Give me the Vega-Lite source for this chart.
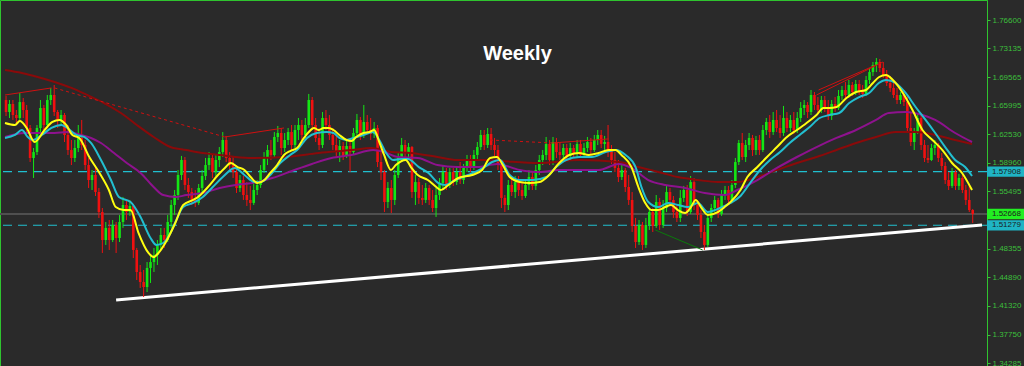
{
"$schema":"https://vega.github.io/schema/vega-lite/v6.json",
"width":987,"height":366,
"autosize":{"type":"none"},
"padding":{"left":0,"top":0,"right":37,"bottom":0},
"background":"#2a2a2a",
"title":{"text":"Weekly","color":"#ffffff","font":"Liberation Sans","fontSize":20,"fontWeight":"bold","anchor":"middle","frame":"group","offset":0,"dx":24,"dy":80,"baseline":"alphabetic"},
"config":{"view":{"stroke":"#2fc42f","strokeWidth":1}},
"resolve":{"axis":{"y":"independent","x":"independent"}},
"datasets":{
"candles":[
{"i":0,"o":1.6673,"h":1.6723,"l":1.6476,"c":1.6525},
{"i":1,"o":1.6525,"h":1.6673,"l":1.6451,"c":1.6624},
{"i":2,"o":1.6624,"h":1.6673,"l":1.6427,"c":1.6488},
{"i":3,"o":1.6488,"h":1.6550,"l":1.6365,"c":1.6451},
{"i":4,"o":1.6451,"h":1.6760,"l":1.6402,"c":1.6648},
{"i":5,"o":1.6648,"h":1.6698,"l":1.6451,"c":1.6550},
{"i":6,"o":1.6550,"h":1.6612,"l":1.6278,"c":1.6328},
{"i":7,"o":1.6328,"h":1.6365,"l":1.5908,"c":1.5958},
{"i":8,"o":1.5958,"h":1.6081,"l":1.5711,"c":1.6031},
{"i":9,"o":1.6031,"h":1.6365,"l":1.5995,"c":1.6328},
{"i":10,"o":1.6328,"h":1.6673,"l":1.6278,"c":1.6575},
{"i":11,"o":1.6575,"h":1.6612,"l":1.6303,"c":1.6365},
{"i":12,"o":1.6365,"h":1.6735,"l":1.6328,"c":1.6673},
{"i":13,"o":1.6673,"h":1.6822,"l":1.6612,"c":1.6735},
{"i":14,"o":1.6735,"h":1.6858,"l":1.6476,"c":1.6525},
{"i":15,"o":1.6525,"h":1.6550,"l":1.6328,"c":1.6427},
{"i":16,"o":1.6427,"h":1.6550,"l":1.6365,"c":1.6488},
{"i":17,"o":1.6488,"h":1.6513,"l":1.6155,"c":1.6242},
{"i":18,"o":1.6242,"h":1.6365,"l":1.5995,"c":1.6056},
{"i":19,"o":1.6056,"h":1.6180,"l":1.5871,"c":1.5958},
{"i":20,"o":1.5958,"h":1.6180,"l":1.5908,"c":1.6081},
{"i":21,"o":1.6081,"h":1.6365,"l":1.6031,"c":1.6205},
{"i":22,"o":1.6205,"h":1.6427,"l":1.6056,"c":1.6118},
{"i":23,"o":1.6118,"h":1.6180,"l":1.5810,"c":1.5871},
{"i":24,"o":1.5871,"h":1.5958,"l":1.5588,"c":1.5686},
{"i":25,"o":1.5686,"h":1.5810,"l":1.5563,"c":1.5748},
{"i":26,"o":1.5748,"h":1.5871,"l":1.5489,"c":1.5538},
{"i":27,"o":1.5538,"h":1.5588,"l":1.5218,"c":1.5291},
{"i":28,"o":1.5291,"h":1.5341,"l":1.4786,"c":1.4946},
{"i":29,"o":1.4946,"h":1.5168,"l":1.4885,"c":1.5095},
{"i":30,"o":1.5095,"h":1.5193,"l":1.4823,"c":1.4946},
{"i":31,"o":1.4946,"h":1.5193,"l":1.4921,"c":1.5131},
{"i":32,"o":1.5131,"h":1.5168,"l":1.4786,"c":1.4971},
{"i":33,"o":1.4971,"h":1.5255,"l":1.4921,"c":1.5168},
{"i":34,"o":1.5168,"h":1.5477,"l":1.5095,"c":1.5378},
{"i":35,"o":1.5378,"h":1.5440,"l":1.5193,"c":1.5291},
{"i":36,"o":1.5291,"h":1.5440,"l":1.5243,"c":1.5366},
{"i":37,"o":1.5366,"h":1.5391,"l":1.4724,"c":1.4823},
{"i":38,"o":1.4823,"h":1.4848,"l":1.4453,"c":1.4551},
{"i":39,"o":1.4551,"h":1.4638,"l":1.4354,"c":1.4428},
{"i":40,"o":1.4428,"h":1.4576,"l":1.4243,"c":1.4366},
{"i":41,"o":1.4366,"h":1.4674,"l":1.4304,"c":1.4601},
{"i":42,"o":1.4601,"h":1.4761,"l":1.4416,"c":1.4674},
{"i":43,"o":1.4674,"h":1.4848,"l":1.4551,"c":1.4761},
{"i":44,"o":1.4761,"h":1.4946,"l":1.4638,"c":1.4885},
{"i":45,"o":1.4885,"h":1.5095,"l":1.4823,"c":1.5008},
{"i":46,"o":1.5008,"h":1.5095,"l":1.4848,"c":1.4946},
{"i":47,"o":1.4946,"h":1.5255,"l":1.4921,"c":1.5168},
{"i":48,"o":1.5168,"h":1.5440,"l":1.5095,"c":1.5378},
{"i":49,"o":1.5378,"h":1.5563,"l":1.5255,"c":1.5501},
{"i":50,"o":1.5501,"h":1.5810,"l":1.5440,"c":1.5748},
{"i":51,"o":1.5748,"h":1.5983,"l":1.5686,"c":1.5933},
{"i":52,"o":1.5933,"h":1.5970,"l":1.5563,"c":1.5625},
{"i":53,"o":1.5625,"h":1.5711,"l":1.5465,"c":1.5538},
{"i":54,"o":1.5538,"h":1.5588,"l":1.5378,"c":1.5440},
{"i":55,"o":1.5440,"h":1.5563,"l":1.5353,"c":1.5403},
{"i":56,"o":1.5403,"h":1.5637,"l":1.5378,"c":1.5588},
{"i":57,"o":1.5588,"h":1.5810,"l":1.5538,"c":1.5736},
{"i":58,"o":1.5736,"h":1.5958,"l":1.5686,"c":1.5871},
{"i":59,"o":1.5871,"h":1.6031,"l":1.5810,"c":1.5958},
{"i":60,"o":1.5958,"h":1.5995,"l":1.5711,"c":1.5785},
{"i":61,"o":1.5785,"h":1.5995,"l":1.5736,"c":1.5933},
{"i":62,"o":1.5933,"h":1.6093,"l":1.5846,"c":1.6031},
{"i":63,"o":1.6031,"h":1.6278,"l":1.5970,"c":1.6180},
{"i":64,"o":1.6180,"h":1.6230,"l":1.5908,"c":1.5958},
{"i":65,"o":1.5958,"h":1.6031,"l":1.5810,"c":1.5871},
{"i":66,"o":1.5871,"h":1.5983,"l":1.5711,"c":1.5785},
{"i":67,"o":1.5785,"h":1.5835,"l":1.5526,"c":1.5588},
{"i":68,"o":1.5588,"h":1.5748,"l":1.5538,"c":1.5686},
{"i":69,"o":1.5686,"h":1.5736,"l":1.5440,"c":1.5501},
{"i":70,"o":1.5501,"h":1.5661,"l":1.5366,"c":1.5440},
{"i":71,"o":1.5440,"h":1.5613,"l":1.5316,"c":1.5403},
{"i":72,"o":1.5403,"h":1.5661,"l":1.5378,"c":1.5563},
{"i":73,"o":1.5563,"h":1.5686,"l":1.5501,"c":1.5625},
{"i":74,"o":1.5625,"h":1.5871,"l":1.5588,"c":1.5810},
{"i":75,"o":1.5810,"h":1.6031,"l":1.5773,"c":1.5970},
{"i":76,"o":1.5970,"h":1.6118,"l":1.5871,"c":1.6056},
{"i":77,"o":1.6056,"h":1.6180,"l":1.5933,"c":1.5995},
{"i":78,"o":1.5995,"h":1.6278,"l":1.5970,"c":1.6217},
{"i":79,"o":1.6217,"h":1.6353,"l":1.6155,"c":1.6266},
{"i":80,"o":1.6266,"h":1.6328,"l":1.5995,"c":1.6081},
{"i":81,"o":1.6081,"h":1.6266,"l":1.6031,"c":1.6180},
{"i":82,"o":1.6180,"h":1.6328,"l":1.6118,"c":1.6278},
{"i":83,"o":1.6278,"h":1.6365,"l":1.6056,"c":1.6118},
{"i":84,"o":1.6118,"h":1.6365,"l":1.6081,"c":1.6303},
{"i":85,"o":1.6303,"h":1.6451,"l":1.6180,"c":1.6365},
{"i":86,"o":1.6365,"h":1.6427,"l":1.6180,"c":1.6242},
{"i":87,"o":1.6242,"h":1.6451,"l":1.6205,"c":1.6365},
{"i":88,"o":1.6365,"h":1.6748,"l":1.6328,"c":1.6673},
{"i":89,"o":1.6673,"h":1.6710,"l":1.6303,"c":1.6365},
{"i":90,"o":1.6365,"h":1.6451,"l":1.6155,"c":1.6205},
{"i":91,"o":1.6205,"h":1.6328,"l":1.6056,"c":1.6118},
{"i":92,"o":1.6118,"h":1.6525,"l":1.6081,"c":1.6451},
{"i":93,"o":1.6451,"h":1.6550,"l":1.6303,"c":1.6365},
{"i":94,"o":1.6365,"h":1.6488,"l":1.6180,"c":1.6242},
{"i":95,"o":1.6242,"h":1.6328,"l":1.6056,"c":1.6118},
{"i":96,"o":1.6118,"h":1.6242,"l":1.5958,"c":1.6031},
{"i":97,"o":1.6031,"h":1.6180,"l":1.5908,"c":1.6106},
{"i":98,"o":1.6106,"h":1.6155,"l":1.5933,"c":1.5983},
{"i":99,"o":1.5983,"h":1.6180,"l":1.5958,"c":1.6106},
{"i":100,"o":1.6106,"h":1.6180,"l":1.5785,"c":1.6031},
{"i":101,"o":1.6031,"h":1.6328,"l":1.5995,"c":1.6266},
{"i":102,"o":1.6266,"h":1.6501,"l":1.6217,"c":1.6427},
{"i":103,"o":1.6427,"h":1.6464,"l":1.6180,"c":1.6242},
{"i":104,"o":1.6242,"h":1.6612,"l":1.6205,"c":1.6402},
{"i":105,"o":1.6402,"h":1.6488,"l":1.6254,"c":1.6303},
{"i":106,"o":1.6303,"h":1.6451,"l":1.6180,"c":1.6254},
{"i":107,"o":1.6254,"h":1.6402,"l":1.6205,"c":1.6328},
{"i":108,"o":1.6328,"h":1.6365,"l":1.5846,"c":1.5908},
{"i":109,"o":1.5908,"h":1.6056,"l":1.5686,"c":1.5785},
{"i":110,"o":1.5785,"h":1.5810,"l":1.5291,"c":1.5415},
{"i":111,"o":1.5415,"h":1.5661,"l":1.5341,"c":1.5588},
{"i":112,"o":1.5588,"h":1.5686,"l":1.5279,"c":1.5440},
{"i":113,"o":1.5440,"h":1.5810,"l":1.5378,"c":1.5748},
{"i":114,"o":1.5748,"h":1.6031,"l":1.5711,"c":1.5958},
{"i":115,"o":1.5958,"h":1.6205,"l":1.5908,"c":1.6118},
{"i":116,"o":1.6118,"h":1.6180,"l":1.5958,"c":1.6019},
{"i":117,"o":1.6019,"h":1.6143,"l":1.5933,"c":1.6093},
{"i":118,"o":1.6093,"h":1.6106,"l":1.5465,"c":1.5538},
{"i":119,"o":1.5538,"h":1.5748,"l":1.5378,"c":1.5661},
{"i":120,"o":1.5661,"h":1.5711,"l":1.5391,"c":1.5465},
{"i":121,"o":1.5465,"h":1.5625,"l":1.5378,"c":1.5440},
{"i":122,"o":1.5440,"h":1.5649,"l":1.5403,"c":1.5588},
{"i":123,"o":1.5588,"h":1.5625,"l":1.5378,"c":1.5440},
{"i":124,"o":1.5440,"h":1.5563,"l":1.5291,"c":1.5341},
{"i":125,"o":1.5341,"h":1.5588,"l":1.5230,"c":1.5501},
{"i":126,"o":1.5501,"h":1.5711,"l":1.5440,"c":1.5649},
{"i":127,"o":1.5649,"h":1.5871,"l":1.5588,"c":1.5785},
{"i":128,"o":1.5785,"h":1.5835,"l":1.5563,"c":1.5625},
{"i":129,"o":1.5625,"h":1.5835,"l":1.5588,"c":1.5785},
{"i":130,"o":1.5785,"h":1.5835,"l":1.5613,"c":1.5661},
{"i":131,"o":1.5661,"h":1.5859,"l":1.5625,"c":1.5785},
{"i":132,"o":1.5785,"h":1.5908,"l":1.5637,"c":1.5686},
{"i":133,"o":1.5686,"h":1.5884,"l":1.5637,"c":1.5835},
{"i":134,"o":1.5835,"h":1.5995,"l":1.5785,"c":1.5933},
{"i":135,"o":1.5933,"h":1.5995,"l":1.5785,"c":1.5835},
{"i":136,"o":1.5835,"h":1.6056,"l":1.5810,"c":1.5995},
{"i":137,"o":1.5995,"h":1.6155,"l":1.5933,"c":1.6093},
{"i":138,"o":1.6093,"h":1.6303,"l":1.6056,"c":1.6242},
{"i":139,"o":1.6242,"h":1.6303,"l":1.6056,"c":1.6118},
{"i":140,"o":1.6118,"h":1.6328,"l":1.6081,"c":1.6254},
{"i":141,"o":1.6254,"h":1.6328,"l":1.6056,"c":1.6118},
{"i":142,"o":1.6118,"h":1.6205,"l":1.5983,"c":1.6056},
{"i":143,"o":1.6056,"h":1.6118,"l":1.5810,"c":1.5871},
{"i":144,"o":1.5871,"h":1.5933,"l":1.5341,"c":1.5465},
{"i":145,"o":1.5465,"h":1.5501,"l":1.5291,"c":1.5378},
{"i":146,"o":1.5378,"h":1.5686,"l":1.5316,"c":1.5625},
{"i":147,"o":1.5625,"h":1.5711,"l":1.5489,"c":1.5538},
{"i":148,"o":1.5538,"h":1.5736,"l":1.5465,"c":1.5661},
{"i":149,"o":1.5661,"h":1.5736,"l":1.5489,"c":1.5563},
{"i":150,"o":1.5563,"h":1.5649,"l":1.5440,"c":1.5489},
{"i":151,"o":1.5489,"h":1.5686,"l":1.5465,"c":1.5625},
{"i":152,"o":1.5625,"h":1.5810,"l":1.5563,"c":1.5723},
{"i":153,"o":1.5723,"h":1.5785,"l":1.5563,"c":1.5613},
{"i":154,"o":1.5613,"h":1.5871,"l":1.5563,"c":1.5810},
{"i":155,"o":1.5810,"h":1.5995,"l":1.5748,"c":1.5933},
{"i":156,"o":1.5933,"h":1.6056,"l":1.5871,"c":1.5995},
{"i":157,"o":1.5995,"h":1.6217,"l":1.5933,"c":1.6131},
{"i":158,"o":1.6131,"h":1.6180,"l":1.5871,"c":1.5933},
{"i":159,"o":1.5933,"h":1.6217,"l":1.5871,"c":1.6155},
{"i":160,"o":1.6155,"h":1.6205,"l":1.5958,"c":1.6031},
{"i":161,"o":1.6031,"h":1.6155,"l":1.5933,"c":1.5995},
{"i":162,"o":1.5995,"h":1.6131,"l":1.5933,"c":1.6081},
{"i":163,"o":1.6081,"h":1.6131,"l":1.5933,"c":1.5983},
{"i":164,"o":1.5983,"h":1.6143,"l":1.5933,"c":1.6081},
{"i":165,"o":1.6081,"h":1.6118,"l":1.5958,"c":1.6007},
{"i":166,"o":1.6007,"h":1.6180,"l":1.5958,"c":1.6131},
{"i":167,"o":1.6131,"h":1.6180,"l":1.5958,"c":1.5995},
{"i":168,"o":1.5995,"h":1.6143,"l":1.5970,"c":1.6081},
{"i":169,"o":1.6081,"h":1.6217,"l":1.6031,"c":1.6155},
{"i":170,"o":1.6155,"h":1.6205,"l":1.5995,"c":1.6056},
{"i":171,"o":1.6056,"h":1.6242,"l":1.6031,"c":1.6180},
{"i":172,"o":1.6180,"h":1.6303,"l":1.6118,"c":1.6242},
{"i":173,"o":1.6242,"h":1.6303,"l":1.6081,"c":1.6131},
{"i":174,"o":1.6131,"h":1.6230,"l":1.6056,"c":1.6155},
{"i":175,"o":1.6155,"h":1.6365,"l":1.5970,"c":1.6056},
{"i":176,"o":1.6056,"h":1.6118,"l":1.5884,"c":1.5933},
{"i":177,"o":1.5933,"h":1.6031,"l":1.5785,"c":1.5835},
{"i":178,"o":1.5835,"h":1.5933,"l":1.5661,"c":1.5723},
{"i":179,"o":1.5723,"h":1.5871,"l":1.5686,"c":1.5810},
{"i":180,"o":1.5810,"h":1.5835,"l":1.5538,"c":1.5600},
{"i":181,"o":1.5600,"h":1.5748,"l":1.5378,"c":1.5440},
{"i":182,"o":1.5440,"h":1.5538,"l":1.5045,"c":1.5119},
{"i":183,"o":1.5119,"h":1.5218,"l":1.4848,"c":1.4921},
{"i":184,"o":1.4921,"h":1.5193,"l":1.4885,"c":1.5131},
{"i":185,"o":1.5131,"h":1.5168,"l":1.4823,"c":1.4885},
{"i":186,"o":1.4885,"h":1.5218,"l":1.4848,"c":1.5131},
{"i":187,"o":1.5131,"h":1.5341,"l":1.5070,"c":1.5291},
{"i":188,"o":1.5291,"h":1.5341,"l":1.5045,"c":1.5119},
{"i":189,"o":1.5119,"h":1.5501,"l":1.5095,"c":1.5415},
{"i":190,"o":1.5415,"h":1.5465,"l":1.5070,"c":1.5131},
{"i":191,"o":1.5131,"h":1.5440,"l":1.5095,"c":1.5341},
{"i":192,"o":1.5341,"h":1.5613,"l":1.5291,"c":1.5538},
{"i":193,"o":1.5538,"h":1.5588,"l":1.5378,"c":1.5440},
{"i":194,"o":1.5440,"h":1.5489,"l":1.5218,"c":1.5291},
{"i":195,"o":1.5291,"h":1.5378,"l":1.5168,"c":1.5218},
{"i":196,"o":1.5218,"h":1.5563,"l":1.5168,"c":1.5465},
{"i":197,"o":1.5465,"h":1.5613,"l":1.5415,"c":1.5563},
{"i":198,"o":1.5563,"h":1.5625,"l":1.5243,"c":1.5291},
{"i":199,"o":1.5291,"h":1.5736,"l":1.5267,"c":1.5661},
{"i":200,"o":1.5661,"h":1.5711,"l":1.5316,"c":1.5378},
{"i":201,"o":1.5378,"h":1.5440,"l":1.5193,"c":1.5255},
{"i":202,"o":1.5255,"h":1.5316,"l":1.4971,"c":1.5045},
{"i":203,"o":1.5045,"h":1.5131,"l":1.4823,"c":1.4885},
{"i":204,"o":1.4885,"h":1.5291,"l":1.4860,"c":1.5218},
{"i":205,"o":1.5218,"h":1.5391,"l":1.5168,"c":1.5341},
{"i":206,"o":1.5341,"h":1.5489,"l":1.5291,"c":1.5440},
{"i":207,"o":1.5440,"h":1.5465,"l":1.5218,"c":1.5267},
{"i":208,"o":1.5267,"h":1.5563,"l":1.5243,"c":1.5501},
{"i":209,"o":1.5501,"h":1.5613,"l":1.5440,"c":1.5563},
{"i":210,"o":1.5563,"h":1.5613,"l":1.5391,"c":1.5440},
{"i":211,"o":1.5440,"h":1.5686,"l":1.5415,"c":1.5625},
{"i":212,"o":1.5625,"h":1.5958,"l":1.5588,"c":1.5908},
{"i":213,"o":1.5908,"h":1.6180,"l":1.5871,"c":1.6143},
{"i":214,"o":1.6143,"h":1.6266,"l":1.5933,"c":1.5970},
{"i":215,"o":1.5970,"h":1.6180,"l":1.5908,"c":1.6118},
{"i":216,"o":1.6118,"h":1.6266,"l":1.6056,"c":1.6205},
{"i":217,"o":1.6205,"h":1.6242,"l":1.5983,"c":1.6056},
{"i":218,"o":1.6056,"h":1.6230,"l":1.5995,"c":1.6180},
{"i":219,"o":1.6180,"h":1.6242,"l":1.5995,"c":1.6056},
{"i":220,"o":1.6056,"h":1.6365,"l":1.6031,"c":1.6303},
{"i":221,"o":1.6303,"h":1.6451,"l":1.6242,"c":1.6402},
{"i":222,"o":1.6402,"h":1.6488,"l":1.6205,"c":1.6278},
{"i":223,"o":1.6278,"h":1.6525,"l":1.6242,"c":1.6427},
{"i":224,"o":1.6427,"h":1.6550,"l":1.6278,"c":1.6328},
{"i":225,"o":1.6328,"h":1.6488,"l":1.6205,"c":1.6266},
{"i":226,"o":1.6266,"h":1.6600,"l":1.6230,"c":1.6451},
{"i":227,"o":1.6451,"h":1.6525,"l":1.6278,"c":1.6328},
{"i":228,"o":1.6328,"h":1.6488,"l":1.6278,"c":1.6427},
{"i":229,"o":1.6427,"h":1.6525,"l":1.6254,"c":1.6303},
{"i":230,"o":1.6303,"h":1.6525,"l":1.6266,"c":1.6451},
{"i":231,"o":1.6451,"h":1.6648,"l":1.6402,"c":1.6575},
{"i":232,"o":1.6575,"h":1.6673,"l":1.6488,"c":1.6612},
{"i":233,"o":1.6612,"h":1.6648,"l":1.6451,"c":1.6525},
{"i":234,"o":1.6525,"h":1.6797,"l":1.6488,"c":1.6735},
{"i":235,"o":1.6735,"h":1.6772,"l":1.6550,"c":1.6612},
{"i":236,"o":1.6612,"h":1.6710,"l":1.6501,"c":1.6550},
{"i":237,"o":1.6550,"h":1.6723,"l":1.6513,"c":1.6673},
{"i":238,"o":1.6673,"h":1.6723,"l":1.6525,"c":1.6575},
{"i":239,"o":1.6575,"h":1.6673,"l":1.6427,"c":1.6476},
{"i":240,"o":1.6476,"h":1.6673,"l":1.6427,"c":1.6624},
{"i":241,"o":1.6624,"h":1.6710,"l":1.6525,"c":1.6575},
{"i":242,"o":1.6575,"h":1.6797,"l":1.6550,"c":1.6723},
{"i":243,"o":1.6723,"h":1.6846,"l":1.6673,"c":1.6797},
{"i":244,"o":1.6797,"h":1.6895,"l":1.6686,"c":1.6735},
{"i":245,"o":1.6735,"h":1.6920,"l":1.6698,"c":1.6858},
{"i":246,"o":1.6858,"h":1.6895,"l":1.6723,"c":1.6772},
{"i":247,"o":1.6772,"h":1.6920,"l":1.6735,"c":1.6871},
{"i":248,"o":1.6871,"h":1.6920,"l":1.6735,"c":1.6772},
{"i":249,"o":1.6772,"h":1.6858,"l":1.6698,"c":1.6748},
{"i":250,"o":1.6748,"h":1.6970,"l":1.6723,"c":1.6920},
{"i":251,"o":1.6920,"h":1.7068,"l":1.6871,"c":1.7018},
{"i":252,"o":1.7018,"h":1.7142,"l":1.6970,"c":1.7105},
{"i":253,"o":1.7105,"h":1.7191,"l":1.7018,"c":1.7142},
{"i":254,"o":1.7142,"h":1.7179,"l":1.7018,"c":1.7068},
{"i":255,"o":1.7068,"h":1.7142,"l":1.6945,"c":1.6982},
{"i":256,"o":1.6982,"h":1.7043,"l":1.6846,"c":1.6883},
{"i":257,"o":1.6883,"h":1.6970,"l":1.6772,"c":1.6822},
{"i":258,"o":1.6822,"h":1.6895,"l":1.6698,"c":1.6735},
{"i":259,"o":1.6735,"h":1.6822,"l":1.6624,"c":1.6673},
{"i":260,"o":1.6673,"h":1.6772,"l":1.6624,"c":1.6735},
{"i":261,"o":1.6735,"h":1.6797,"l":1.6599,"c":1.6648},
{"i":262,"o":1.6648,"h":1.6723,"l":1.6278,"c":1.6328},
{"i":263,"o":1.6328,"h":1.6525,"l":1.6106,"c":1.6155},
{"i":264,"o":1.6155,"h":1.6328,"l":1.6056,"c":1.6278},
{"i":265,"o":1.6278,"h":1.6501,"l":1.6254,"c":1.6451},
{"i":266,"o":1.6451,"h":1.6488,"l":1.6056,"c":1.6118},
{"i":267,"o":1.6118,"h":1.6180,"l":1.5908,"c":1.5958},
{"i":268,"o":1.5958,"h":1.6118,"l":1.5896,"c":1.5933},
{"i":269,"o":1.5933,"h":1.6131,"l":1.5920,"c":1.6081},
{"i":270,"o":1.6081,"h":1.6180,"l":1.5995,"c":1.6118},
{"i":271,"o":1.6118,"h":1.6143,"l":1.5908,"c":1.5958},
{"i":272,"o":1.5958,"h":1.6019,"l":1.5810,"c":1.5859},
{"i":273,"o":1.5859,"h":1.5908,"l":1.5637,"c":1.5686},
{"i":274,"o":1.5686,"h":1.5785,"l":1.5563,"c":1.5613},
{"i":275,"o":1.5613,"h":1.5835,"l":1.5588,"c":1.5785},
{"i":276,"o":1.5785,"h":1.5810,"l":1.5563,"c":1.5613},
{"i":277,"o":1.5613,"h":1.5761,"l":1.5563,"c":1.5711},
{"i":278,"o":1.5711,"h":1.5748,"l":1.5526,"c":1.5563},
{"i":279,"o":1.5563,"h":1.5625,"l":1.5378,"c":1.5440},
{"i":280,"o":1.5440,"h":1.5625,"l":1.5291,"c":1.5316},
{"i":281,"o":1.5316,"h":1.5329,"l":1.5156,"c":1.5267}
],
"yellow":[
{"i":-0.3,"p":1.6390},{"i":2.6,"p":1.6365},{"i":4.0,"p":1.6414},{"i":6.0,"p":1.6328},{"i":8.3,"p":1.6155},{"i":11.2,"p":1.6303},{"i":13.5,"p":1.6402},{"i":15.5,"p":1.6427},{"i":17.5,"p":1.6365},{"i":19.3,"p":1.6242},{"i":21.3,"p":1.6205},{"i":24.2,"p":1.5970},{"i":27,"p":1.5785},{"i":29.9,"p":1.5563},{"i":31.9,"p":1.5353},{"i":34.2,"p":1.5316},{"i":36.2,"p":1.5316},{"i":38.5,"p":1.5033},{"i":41.4,"p":1.4786},{"i":42.9,"p":1.4736},{"i":44.3,"p":1.4786},{"i":46.3,"p":1.4909},{"i":49.2,"p":1.5156},{"i":51.5,"p":1.5378},{"i":54.4,"p":1.5440},{"i":55.8,"p":1.5477},{"i":58.7,"p":1.5600},{"i":61.6,"p":1.5748},{"i":63.6,"p":1.5835},{"i":65.3,"p":1.5896},{"i":67.3,"p":1.5846},{"i":69.3,"p":1.5810},{"i":71.1,"p":1.5723},{"i":73.1,"p":1.5649},{"i":75.1,"p":1.5686},{"i":76.8,"p":1.5773},{"i":78.8,"p":1.5871},{"i":80.8,"p":1.5995},{"i":82.6,"p":1.6044},{"i":84.6,"p":1.6081},{"i":86.6,"p":1.6205},{"i":88,"p":1.6278},{"i":89.5,"p":1.6328},{"i":90.9,"p":1.6303},{"i":92.3,"p":1.6328},{"i":93.8,"p":1.6328},{"i":95.2,"p":1.6303},{"i":96.9,"p":1.6242},{"i":99,"p":1.6180},{"i":100.4,"p":1.6168},{"i":101.8,"p":1.6217},{"i":103.9,"p":1.6266},{"i":105.6,"p":1.6278},{"i":107,"p":1.6303},{"i":108.5,"p":1.6155},{"i":109.9,"p":1.5995},{"i":111.9,"p":1.5810},{"i":113.3,"p":1.5871},{"i":116.2,"p":1.5933},{"i":117.7,"p":1.5846},{"i":119.7,"p":1.5748},{"i":122.6,"p":1.5686},{"i":125.4,"p":1.5588},{"i":126.3,"p":1.5563},{"i":128.6,"p":1.5625},{"i":131.5,"p":1.5711},{"i":135.5,"p":1.5748},{"i":138.4,"p":1.5810},{"i":140.7,"p":1.5958},{"i":142.7,"p":1.5970},{"i":144.4,"p":1.5871},{"i":146.4,"p":1.5723},{"i":149.3,"p":1.5661},{"i":152.2,"p":1.5649},{"i":155.1,"p":1.5661},{"i":157.9,"p":1.5748},{"i":160.8,"p":1.5896},{"i":163.7,"p":1.5995},{"i":166.6,"p":1.6019},{"i":169.4,"p":1.5995},{"i":172.3,"p":1.6019},{"i":175.2,"p":1.6056},{"i":177.2,"p":1.6056},{"i":178.9,"p":1.5995},{"i":181.8,"p":1.5846},{"i":183.8,"p":1.5600},{"i":185.8,"p":1.5403},{"i":187.6,"p":1.5316},{"i":189.6,"p":1.5316},{"i":191.6,"p":1.5353},{"i":193.3,"p":1.5378},{"i":195.3,"p":1.5316},{"i":197.4,"p":1.5279},{"i":199.1,"p":1.5353},{"i":200.5,"p":1.5440},{"i":202,"p":1.5353},{"i":204,"p":1.5255},{"i":206.9,"p":1.5291},{"i":208.9,"p":1.5353},{"i":210.6,"p":1.5415},{"i":213.5,"p":1.5563},{"i":215.5,"p":1.5723},{"i":218.4,"p":1.5846},{"i":221.2,"p":1.5970},{"i":224.1,"p":1.6093},{"i":227,"p":1.6217},{"i":229.9,"p":1.6303},{"i":232.7,"p":1.6390},{"i":235.6,"p":1.6488},{"i":237.6,"p":1.6575},{"i":239.4,"p":1.6575},{"i":241.4,"p":1.6587},{"i":244.3,"p":1.6698},{"i":247.1,"p":1.6772},{"i":250,"p":1.6797},{"i":252,"p":1.6883},{"i":253.8,"p":1.6957},{"i":255.8,"p":1.6982},{"i":257.8,"p":1.6920},{"i":260.7,"p":1.6760},{"i":263.5,"p":1.6550},{"i":266.4,"p":1.6303},{"i":269.3,"p":1.6180},{"i":272.2,"p":1.6056},{"i":275,"p":1.5896},{"i":277.9,"p":1.5773},{"i":280.8,"p":1.5563}
],
"cyan":[
{"i":-0.3,"p":1.6205},{"i":2.6,"p":1.6242},{"i":4.6,"p":1.6303},{"i":6.3,"p":1.6217},{"i":7.8,"p":1.6180},{"i":10.4,"p":1.6242},{"i":13.2,"p":1.6328},{"i":16.1,"p":1.6365},{"i":17.8,"p":1.6328},{"i":20.4,"p":1.6242},{"i":22.7,"p":1.6217},{"i":24.7,"p":1.6143},{"i":27.6,"p":1.5933},{"i":30.5,"p":1.5686},{"i":32.8,"p":1.5477},{"i":36.2,"p":1.5415},{"i":39.1,"p":1.5230},{"i":42.0,"p":1.4971},{"i":43.7,"p":1.4885},{"i":45.7,"p":1.4909},{"i":47.8,"p":1.5033},{"i":49.5,"p":1.5193},{"i":51.5,"p":1.5353},{"i":54.4,"p":1.5403},{"i":57.2,"p":1.5477},{"i":60.1,"p":1.5600},{"i":63.0,"p":1.5723},{"i":66.5,"p":1.5835},{"i":69.3,"p":1.5748},{"i":72.2,"p":1.5661},{"i":73.9,"p":1.5661},{"i":76.8,"p":1.5748},{"i":79.7,"p":1.5896},{"i":82.6,"p":1.5995},{"i":84.6,"p":1.6056},{"i":87.5,"p":1.6205},{"i":90.3,"p":1.6266},{"i":93.2,"p":1.6278},{"i":95.2,"p":1.6266},{"i":96.9,"p":1.6205},{"i":99.0,"p":1.6180},{"i":101.0,"p":1.6205},{"i":103.9,"p":1.6242},{"i":106.7,"p":1.6278},{"i":108.5,"p":1.6180},{"i":110.5,"p":1.6019},{"i":112.5,"p":1.5933},{"i":114.8,"p":1.5945},{"i":116.8,"p":1.5945},{"i":120.0,"p":1.5846},{"i":122.8,"p":1.5773},{"i":125.7,"p":1.5649},{"i":127.7,"p":1.5625},{"i":130.6,"p":1.5686},{"i":134.3,"p":1.5748},{"i":138.7,"p":1.5835},{"i":141.3,"p":1.5908},{"i":143.6,"p":1.5933},{"i":146.4,"p":1.5748},{"i":149.3,"p":1.5686},{"i":153.1,"p":1.5686},{"i":157.1,"p":1.5723},{"i":159.9,"p":1.5846},{"i":162.8,"p":1.5933},{"i":166.6,"p":1.5970},{"i":170.3,"p":1.5970},{"i":174.3,"p":1.6031},{"i":177.2,"p":1.6056},{"i":180.1,"p":1.5995},{"i":183.0,"p":1.5846},{"i":184.7,"p":1.5600},{"i":186.7,"p":1.5415},{"i":189.6,"p":1.5353},{"i":192.5,"p":1.5403},{"i":195.3,"p":1.5378},{"i":198.2,"p":1.5353},{"i":201.1,"p":1.5403},{"i":204.0,"p":1.5291},{"i":206.9,"p":1.5329},{"i":210.6,"p":1.5403},{"i":213.5,"p":1.5489},{"i":216.3,"p":1.5649},{"i":219.2,"p":1.5810},{"i":222.1,"p":1.5933},{"i":225.0,"p":1.6031},{"i":227.8,"p":1.6143},{"i":230.7,"p":1.6242},{"i":233.6,"p":1.6340},{"i":236.5,"p":1.6451},{"i":239.4,"p":1.6488},{"i":242.2,"p":1.6513},{"i":245.1,"p":1.6636},{"i":248.0,"p":1.6710},{"i":250.9,"p":1.6760},{"i":253.7,"p":1.6883},{"i":255.8,"p":1.6920},{"i":258.6,"p":1.6883},{"i":261.5,"p":1.6760},{"i":264.4,"p":1.6587},{"i":267.3,"p":1.6427},{"i":270.1,"p":1.6266},{"i":273.0,"p":1.6093},{"i":275.9,"p":1.5933},{"i":278.8,"p":1.5846},{"i":280.8,"p":1.5736}
],
"purple":[
{"i":-0.3,"p":1.6217},{"i":5.5,"p":1.6266},{"i":14.1,"p":1.6266},{"i":17.8,"p":1.6278},{"i":21.9,"p":1.6242},{"i":24.7,"p":1.6205},{"i":27.6,"p":1.6143},{"i":31.4,"p":1.6019},{"i":35.1,"p":1.5896},{"i":39.1,"p":1.5773},{"i":42.9,"p":1.5600},{"i":45.7,"p":1.5501},{"i":49.5,"p":1.5477},{"i":52.4,"p":1.5501},{"i":57.2,"p":1.5526},{"i":62.1,"p":1.5588},{"i":66.7,"p":1.5625},{"i":71.6,"p":1.5649},{"i":77.4,"p":1.5711},{"i":83.1,"p":1.5798},{"i":88.9,"p":1.5884},{"i":94.6,"p":1.5958},{"i":100.4,"p":1.5995},{"i":106.7,"p":1.6056},{"i":109.9,"p":1.6031},{"i":113.9,"p":1.5970},{"i":119.7,"p":1.5958},{"i":125.4,"p":1.5871},{"i":131.2,"p":1.5846},{"i":136.9,"p":1.5846},{"i":142.7,"p":1.5884},{"i":149.3,"p":1.5810},{"i":155.1,"p":1.5785},{"i":160.8,"p":1.5810},{"i":166.6,"p":1.5810},{"i":172.3,"p":1.5810},{"i":178.1,"p":1.5884},{"i":181.8,"p":1.5835},{"i":186.7,"p":1.5686},{"i":191.6,"p":1.5625},{"i":197.4,"p":1.5588},{"i":203.1,"p":1.5526},{"i":208.9,"p":1.5501},{"i":212.6,"p":1.5563},{"i":218.4,"p":1.5686},{"i":224.1,"p":1.5835},{"i":229.9,"p":1.5970},{"i":235.6,"p":1.6093},{"i":241.4,"p":1.6205},{"i":247.1,"p":1.6303},{"i":252.9,"p":1.6427},{"i":256.6,"p":1.6513},{"i":261.5,"p":1.6525},{"i":266.4,"p":1.6488},{"i":270.1,"p":1.6427},{"i":275.9,"p":1.6266},{"i":280.8,"p":1.6155}
],
"maroon":[
{"i":-0.3,"p":1.7043},{"i":4.6,"p":1.7006},{"i":9.2,"p":1.6957},{"i":14.1,"p":1.6895},{"i":19.0,"p":1.6822},{"i":23.6,"p":1.6735},{"i":28.5,"p":1.6636},{"i":33.4,"p":1.6513},{"i":38.0,"p":1.6365},{"i":42.9,"p":1.6217},{"i":47.8,"p":1.6093},{"i":52.4,"p":1.6056},{"i":57.2,"p":1.6019},{"i":62.1,"p":1.5995},{"i":66.7,"p":1.5970},{"i":71.6,"p":1.5958},{"i":81.1,"p":1.5970},{"i":90.9,"p":1.6019},{"i":100.4,"p":1.6056},{"i":106.2,"p":1.6081},{"i":111.9,"p":1.6031},{"i":117.7,"p":1.6019},{"i":125.4,"p":1.5970},{"i":131.2,"p":1.5933},{"i":138.7,"p":1.5933},{"i":143.6,"p":1.5921},{"i":155.1,"p":1.5896},{"i":166.6,"p":1.5933},{"i":178.1,"p":1.5908},{"i":183.8,"p":1.5846},{"i":189.6,"p":1.5785},{"i":195.3,"p":1.5723},{"i":201.1,"p":1.5686},{"i":206.9,"p":1.5661},{"i":212.6,"p":1.5661},{"i":218.4,"p":1.5723},{"i":224.1,"p":1.5810},{"i":229.9,"p":1.5896},{"i":235.6,"p":1.5970},{"i":241.4,"p":1.6056},{"i":247.1,"p":1.6143},{"i":252.9,"p":1.6217},{"i":258.6,"p":1.6278},{"i":264.4,"p":1.6278},{"i":270.1,"p":1.6242},{"i":275.9,"p":1.6180},{"i":280.8,"p":1.6131}
],
"redsolid":[
{"s":"a","i":-0.3,"p":1.6735},{"s":"a","i":13.2,"p":1.6822},
{"s":"c","i":63.6,"p":1.6217},{"s":"c","i":80.8,"p":1.6328},
{"s":"d","i":158.8,"p":1.6143},{"s":"d","i":175.2,"p":1.6193},
{"s":"e","i":235.6,"p":1.6735},{"s":"e","i":254.9,"p":1.7142},
{"s":"f","i":236.2,"p":1.6797},{"s":"f","i":252.9,"p":1.7105}
],
"reddot":[
{"s":"b","i":14.1,"p":1.6822},{"s":"b","i":63.6,"p":1.6217},
{"s":"d","i":140.7,"p":1.6180},{"s":"d","i":158.8,"p":1.6143}
]
},
"layer":[
{"data":{"values":[{"p":1.52668}]},
 "mark":{"type":"rule","color":"#4f4f4f","strokeWidth":2},
 "encoding":{"y":{"field":"p","type":"quantitative","title":null,
   "scale":{"domain":[1.33915,1.7907],"nice":false,"zero":false},
   "axis":{"orient":"right","values":[1.766,1.73135,1.69565,1.65995,1.6253,1.5896,1.55495,1.48355,1.4489,1.4132,1.3775,1.34285],"format":".5f","grid":false,"title":null,"labelColor":"#3cbf3c","labelFont":"Liberation Sans","labelFontSize":8,"labelPadding":2,"tickColor":"#3cbf3c","tickSize":3,"domainColor":"#2fc42f","labelOverlap":false,"labelFlush":false,"labelBound":false}}}},
{"data":{"values":[{"p":1.57908},{"p":1.51279}]},
 "mark":{"type":"rule","color":"#20c0d0","strokeWidth":1.2,"strokeDash":[9,6]},
 "encoding":{"y":{"field":"p","type":"quantitative","scale":{"domain":[1.33915,1.7907],"nice":false,"zero":false},"axis":null}}},
{"data":{"values":[{"i":32,"p":1.4206},{"i":283.7,"p":1.5131}]},
 "mark":{"type":"line","color":"#ffffff","strokeWidth":3,"clip":true},
 "encoding":{"x":{"field":"i","type":"quantitative","scale":{"domain":[-0.3,283.7],"nice":false,"zero":false},"axis":null},
   "y":{"field":"p","type":"quantitative","scale":{"domain":[1.33915,1.7907],"nice":false,"zero":false},"axis":null}}},
{"data":{"name":"candles"},
 "mark":{"type":"rule","strokeWidth":1,"clip":true},
 "encoding":{"x":{"field":"i","type":"quantitative","scale":{"domain":[-0.3,283.7],"nice":false,"zero":false},"axis":null},
   "y":{"field":"l","type":"quantitative","scale":{"domain":[1.33915,1.7907],"nice":false,"zero":false},"axis":null},
   "y2":{"field":"h"},
   "color":{"condition":{"test":"datum.c >= datum.o","value":"#14e614"},"value":"#f01010"}}},
{"data":{"name":"candles"},
 "mark":{"type":"bar","width":2.6,"clip":true},
 "encoding":{"x":{"field":"i","type":"quantitative","scale":{"domain":[-0.3,283.7],"nice":false,"zero":false},"axis":null},
   "y":{"field":"o","type":"quantitative","scale":{"domain":[1.33915,1.7907],"nice":false,"zero":false},"axis":null},
   "y2":{"field":"c"},
   "color":{"condition":{"test":"datum.c >= datum.o","value":"#14e614"},"value":"#f01010"}}},
{"data":{"name":"maroon"},
 "mark":{"type":"line","color":"#8a0a0a","strokeWidth":2,"interpolate":"monotone","clip":true},
 "encoding":{"x":{"field":"i","type":"quantitative","scale":{"domain":[-0.3,283.7],"nice":false,"zero":false},"axis":null},
   "y":{"field":"p","type":"quantitative","scale":{"domain":[1.33915,1.7907],"nice":false,"zero":false},"axis":null}}},
{"data":{"name":"purple"},
 "mark":{"type":"line","color":"#8e128e","strokeWidth":2,"interpolate":"monotone","clip":true},
 "encoding":{"x":{"field":"i","type":"quantitative","scale":{"domain":[-0.3,283.7],"nice":false,"zero":false},"axis":null},
   "y":{"field":"p","type":"quantitative","scale":{"domain":[1.33915,1.7907],"nice":false,"zero":false},"axis":null}}},
{"data":{"name":"cyan"},
 "mark":{"type":"line","color":"#22bfd0","strokeWidth":2,"interpolate":"monotone","clip":true},
 "encoding":{"x":{"field":"i","type":"quantitative","scale":{"domain":[-0.3,283.7],"nice":false,"zero":false},"axis":null},
   "y":{"field":"p","type":"quantitative","scale":{"domain":[1.33915,1.7907],"nice":false,"zero":false},"axis":null}}},
{"data":{"name":"yellow"},
 "mark":{"type":"line","color":"#ffff10","strokeWidth":2,"interpolate":"monotone","clip":true},
 "encoding":{"x":{"field":"i","type":"quantitative","scale":{"domain":[-0.3,283.7],"nice":false,"zero":false},"axis":null},
   "y":{"field":"p","type":"quantitative","scale":{"domain":[1.33915,1.7907],"nice":false,"zero":false},"axis":null}}},
{"data":{"name":"redsolid"},
 "mark":{"type":"line","color":"#d01010","strokeWidth":1,"clip":true},
 "encoding":{"x":{"field":"i","type":"quantitative","scale":{"domain":[-0.3,283.7],"nice":false,"zero":false},"axis":null},
   "y":{"field":"p","type":"quantitative","scale":{"domain":[1.33915,1.7907],"nice":false,"zero":false},"axis":null},
   "detail":{"field":"s"}}},
{"data":{"name":"reddot"},
 "mark":{"type":"line","color":"#d01010","strokeWidth":1,"strokeDash":[3,3],"clip":true},
 "encoding":{"x":{"field":"i","type":"quantitative","scale":{"domain":[-0.3,283.7],"nice":false,"zero":false},"axis":null},
   "y":{"field":"p","type":"quantitative","scale":{"domain":[1.33915,1.7907],"nice":false,"zero":false},"axis":null},
   "detail":{"field":"s"}}},
{"data":{"values":[{"i":188.7,"p":1.5070},{"i":202.5,"p":1.4823}]},
 "mark":{"type":"line","color":"#0a7a0a","strokeWidth":1,"clip":true},
 "encoding":{"x":{"field":"i","type":"quantitative","scale":{"domain":[-0.3,283.7],"nice":false,"zero":false},"axis":null},
   "y":{"field":"p","type":"quantitative","scale":{"domain":[1.33915,1.7907],"nice":false,"zero":false},"axis":null}}},
{"data":{"values":[{"p":1.57908},{"p":1.51279}]},
 "mark":{"type":"point","shape":"M-1,-0.27L1,-0.27L1,0.27L-1,0.27Z","size":1444,"filled":true,"opacity":1,"color":"#1fb4c4","xOffset":19},
 "encoding":{"x":{"value":"width"},
   "y":{"field":"p","type":"quantitative","scale":{"domain":[1.33915,1.7907],"nice":false,"zero":false},"axis":null}}},
{"data":{"values":[{"p":1.52668}]},
 "mark":{"type":"point","shape":"M-1,-0.27L1,-0.27L1,0.27L-1,0.27Z","size":1444,"filled":true,"opacity":1,"color":"#22ee22","xOffset":19},
 "encoding":{"x":{"value":"width"},
   "y":{"field":"p","type":"quantitative","scale":{"domain":[1.33915,1.7907],"nice":false,"zero":false},"axis":null}}},
{"data":{"values":[{"p":1.57908,"t":"1.57908"},{"p":1.52668,"t":"1.52668"},{"p":1.51279,"t":"1.51279"}]},
 "mark":{"type":"text","align":"left","baseline":"middle","dx":5,"font":"Liberation Sans","fontSize":8,"color":"#1c1c1c"},
 "encoding":{"x":{"value":"width"},
   "y":{"field":"p","type":"quantitative","scale":{"domain":[1.33915,1.7907],"nice":false,"zero":false},"axis":null},
   "text":{"field":"t"}}}
]
}
